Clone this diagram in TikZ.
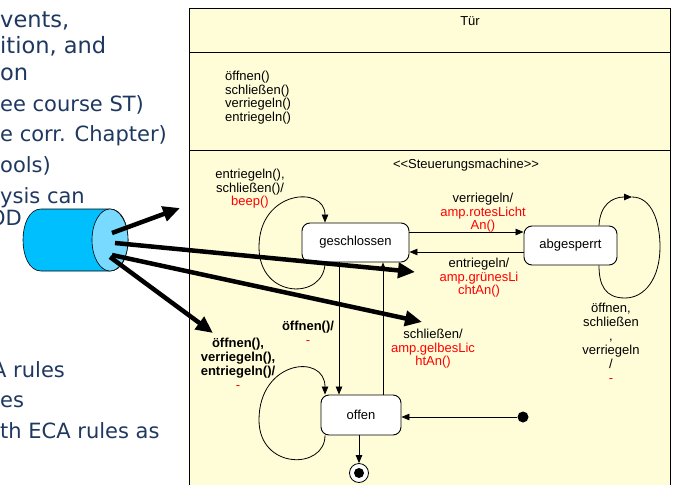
\documentclass[tikz,border=0pt]{standalone}
\usepackage{fontspec}
\setmainfont{Liberation Sans}
\newfontfamily\slidefont{DejaVu Sans}
\usetikzlibrary{arrows.meta}
\definecolor{umlyellow}{RGB}{255,253,216}
\definecolor{navy}{RGB}{31,56,96}
\definecolor{cylbody}{RGB}{0,191,255}
\definecolor{cylface}{RGB}{120,218,255}
\definecolor{lblred}{RGB}{255,0,0}
\tikzset{
  lbl/.style={font=\fontsize{13}{13.5}\selectfont, align=center, inner sep=0pt},
  statebox/.style={draw=black, fill=white, rounded corners=8pt, line width=0.9pt,
    font=\fontsize{13}{13.5}\selectfont, inner sep=0pt},
  trans/.style={line width=0.8pt, -{Triangle[length=8pt,width=6.5pt]}},
  loopline/.style={line width=0.8pt},
  bigarrow/.style={line width=4.5pt, -{Triangle[length=17pt,width=15pt]}},
  slide/.style={font=\slidefont\fontsize{21}{25}\selectfont, text=navy, anchor=base west, inner sep=0pt},
  slidebig/.style={slide, font=\slidefont\fontsize{22.5}{26}\selectfont},
}
\begin{document}
\begin{tikzpicture}[x=1pt,y=-1pt]
\useasboundingbox (0,0) rectangle (673,485);
\clip (0,0) rectangle (673,485);

% slide text (partly hidden)
\node[slidebig] (s1) at (0,27) {vents,};
\node[slidebig] (s2) at (0,53) {ition, and};
\node[slidebig] (s3) at (0,80) {on};
\node[slide] (s4) at (0,111) {ee course ST)};
\node[slide] (s5) at (0,141) {e corr. Chapter)};
\node[slide] (s6) at (0,172) {ools)};
\node[slide] (s7) at (0,203) {ysis can};
\node[slide] (s8) at (-11,225) {OD};
\node[slide] (s9) at (-8,377) {A rules};
\node[slide] (s10) at (0,407) {es};
\node[slide] (s11) at (0,438) {th ECA rules as};

% cylinder
\filldraw[fill=cylbody, draw=black, line width=0.6pt]
  (110,209) -- (41,209) .. controls (17,209) and (17,271) .. (41,271)
  -- (110,271) .. controls (134,271) and (134,209) .. (110,209) -- cycle;
\filldraw[fill=cylface, draw=black, line width=0.6pt] (110,240) ellipse [x radius=18, y radius=31];

% UML class box
\draw[fill=umlyellow, line width=0.8pt] (189,8) rectangle (670,495);
\draw[line width=0.8pt] (189,52) -- (670,52);
\draw[line width=0.8pt] (189,150) -- (670,150);
\node[lbl] (tuer) at (470,21) {Tür};
\node[lbl, anchor=west, align=left] (ops) at (225,97.5) {öffnen()\\schließen()\\verriegeln()\\entriegeln()};
\node[lbl] (stereo) at (466,165) {<\kern0pt<Steuerungsmachine>\kern0pt>};

% states
\node[statebox, minimum width=107pt, minimum height=39pt] (geschl) at (355.5,242.5) {geschlossen};
\node[statebox, minimum width=93pt, minimum height=39pt] (abgesp) at (570.5,245.5) {abgesperrt};
\node[statebox, minimum width=80pt, minimum height=40pt] (offen) at (361,415) {offen};
\node[circle, fill=black, inner sep=0pt, minimum size=11pt] (init) at (523,417) {};
\node[circle, draw=black, fill=white, line width=0.8pt, inner sep=0pt, minimum size=19pt] (final) at (359,473) {};
\node[circle, fill=black, inner sep=0pt, minimum size=10pt] (finaldot) at (final.center) {};

% helper coordinates
\coordinate (ya) at (0,232);
\coordinate (yb) at (0,252);
\coordinate (xa) at (339,0);
\coordinate (xb) at (383,0);
\coordinate (gl) at (325,0);
\coordinate (al) at (599,0);
\coordinate (atop) at (632,197);

% transitions
\draw[trans] (geschl.east |- ya) -- (abgesp.west |- ya);
\draw[trans] (abgesp.west |- yb) -- (geschl.east |- yb);
\draw[trans] (geschl.south -| xa) -- (offen.north -| xa);
\draw[trans] (offen.north -| xb) -- (geschl.south -| xb);
\draw[trans] (init) -- (offen.east |- init);
\draw[trans] (offen.south -| final) -- (final.north);

% self loops
\draw[trans] (geschl.south -| gl) .. controls (325,300) and (259,300) .. (259,247)
  .. controls (259,190) and (325,185) .. (geschl.north -| gl);
\draw[trans] (offen.south -| gl) .. controls (325,470) and (259,470) .. (259,420)
  .. controls (259,360) and (325,353) .. (offen.north -| gl);
\draw[trans] (abgesp.north -| al) .. controls (600,205) and (612,197) .. (atop);
\draw[loopline] (atop) .. controls (652,197) and (660,222) .. (660,247)
  .. controls (660,278) and (645,298) .. (625,298)
  .. controls (605,298) and (599,285) .. (abgesp.south -| al);

% transition labels
\node[lbl] (l1) at (250,189) {entriegeln(),\\schließen()/\\\textcolor{lblred}{beep()}};
\node[lbl] (l2) at (483,213) {verriegeln/\\\textcolor{lblred}{amp.rotesLicht}\\\textcolor{lblred}{An()}};
\node[lbl] (l3) at (479,278) {entriegeln/\\\textcolor{lblred}{amp.grünesLi}\\\textcolor{lblred}{chtAn()}};
\node[lbl] (l4) at (433,349) {schließen/\\\textcolor{lblred}{amp.gelbesLic}\\\textcolor{lblred}{htAn()}};
\node[lbl] (l5) at (308,333) {\textbf{öffnen()/}\\\textcolor{lblred}{-}};
\node[lbl, font=\fontsize{13}{14}\selectfont] (l6) at (238,364) {\textbf{öffnen(),}\\\textbf{verriegeln(),}\\\textbf{entriegeln()/}\\\textcolor{lblred}{-}};
\node[lbl, font=\fontsize{13}{14}\selectfont] (l7) at (611,343) {öffnen,\\schließen\\,\\verriegeln\\/\\\textcolor{lblred}{-}};

% thick arrows from the cylinder
\coordinate (c1) at (112,233);
\coordinate (c2) at (115,243);
\coordinate (c3) at (112,255);
\coordinate (c4) at (110,257);
\coordinate (e1) at (180,208);
\coordinate (e2) at (415,272);
\coordinate (e3) at (422,322);
\coordinate (e4) at (213,333);
\draw[bigarrow] (c1) -- (e1);
\draw[bigarrow] (c2) -- (e2);
\draw[bigarrow] (c3) -- (e3);
\draw[bigarrow] (c4) -- (e4);
\end{tikzpicture}
\end{document}
